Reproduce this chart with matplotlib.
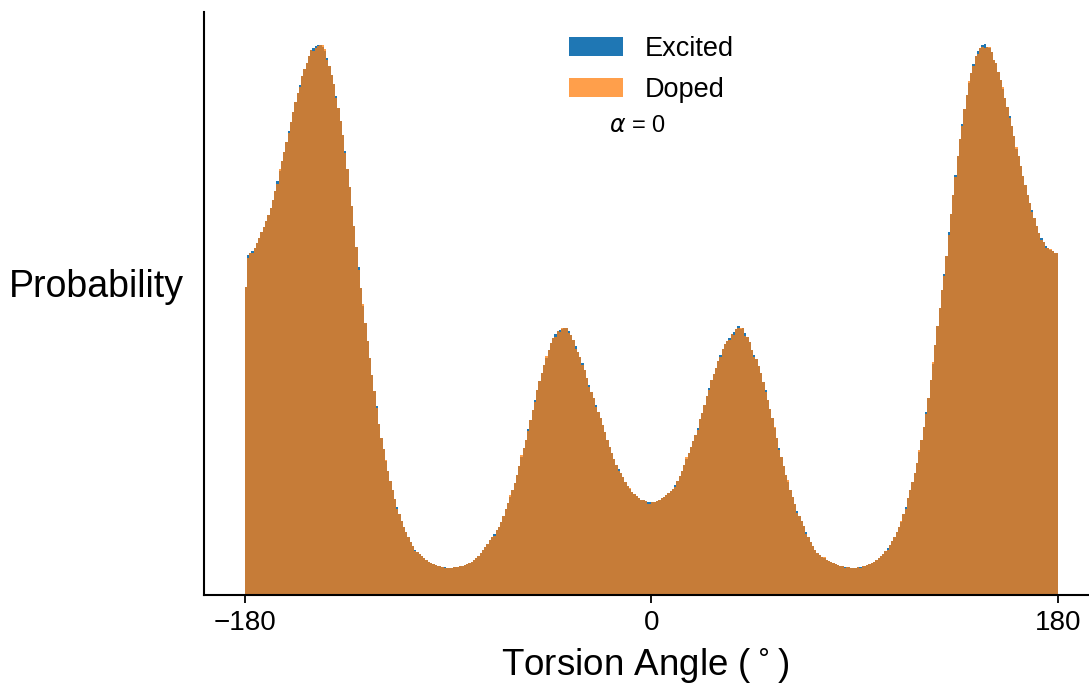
import numpy as np
import matplotlib
matplotlib.use('Agg')
import matplotlib.pyplot as plt

plt.rcParams['font.family'] = ['Liberation Sans', 'DejaVu Sans']

# torsion angle histograms, one bin per degree from -180 to 180 (arbitrary units)
bin_edges = np.arange(-180, 181, 1)

excited = [
    308, 340, 342, 344, 347, 352, 357, 363, 368, 374,
    380, 387, 395, 404, 414, 424, 434, 443, 453, 464,
    473, 483, 493, 502, 510, 519, 526, 532, 539, 545,
    547, 549, 550, 550, 548, 544, 537, 529, 520, 511,
    499, 487, 474, 460, 444, 426, 408, 389, 369, 348,
    328, 307, 289, 272, 254, 237, 220, 204, 189, 171,
    157, 146, 134, 124, 114, 105, 96, 88, 81, 74,
    68, 63, 58, 53, 49, 45, 43, 41, 39, 37,
    35, 33, 32, 31, 30, 29, 29, 28, 28, 27,
    27, 27, 28, 28, 28, 29, 29, 30, 31, 32,
    33, 35, 37, 39, 42, 45, 48, 51, 55, 58,
    61, 65, 68, 73, 79, 86, 92, 98, 105, 112,
    120, 129, 138, 147, 155, 166, 175, 185, 195, 205,
    214, 222, 230, 237, 245, 252, 257, 261, 264, 265,
    266, 267, 267, 264, 260, 255, 249, 243, 238, 232,
    225, 217, 210, 203, 197, 190, 183, 177, 170, 163,
    155, 148, 142, 136, 130, 126, 122, 118, 113, 109,
    106, 103, 101, 99, 97, 95, 95, 94, 93, 93,
    93, 93, 94, 95, 97, 98, 100, 102, 104, 106,
    110, 114, 119, 124, 130, 136, 142, 148, 154, 160,
    167, 176, 182, 190, 199, 207, 215, 221, 227, 234,
    240, 246, 251, 254, 257, 261, 263, 266, 269, 266,
    267, 262, 258, 253, 245, 240, 236, 229, 222, 213,
    205, 195, 186, 177, 167, 157, 147, 138, 129, 120,
    113, 105, 98, 91, 84, 79, 74, 69, 63, 58,
    53, 49, 45, 42, 40, 38, 37, 35, 34, 33,
    32, 31, 30, 29, 29, 28, 28, 28, 27, 27,
    27, 28, 28, 29, 29, 30, 31, 32, 33, 35,
    37, 39, 41, 44, 47, 50, 54, 58, 63, 68,
    73, 81, 88, 97, 105, 113, 122, 132, 143, 155,
    168, 183, 197, 215, 231, 250, 269, 287, 305, 321,
    339, 363, 381, 400, 420, 439, 456, 471, 486, 500,
    512, 522, 531, 539, 544, 547, 550, 551, 548, 547,
    543, 535, 532, 523, 515, 506, 497, 488, 479, 469,
    459, 446, 439, 429, 419, 410, 400, 392, 385, 377,
    369, 362, 357, 353, 349, 347, 345, 344, 342, 342,
]

doped = [
    308, 337, 342, 342, 347, 352, 357, 363, 368, 374,
    380, 387, 395, 404, 411, 426, 434, 443, 453, 462,
    473, 483, 493, 502, 508, 519, 526, 532, 539, 545,
    544, 547, 549, 550, 550, 546, 535, 529, 520, 511,
    497, 487, 474, 460, 442, 426, 408, 389, 369, 348,
    325, 307, 291, 272, 254, 237, 220, 204, 187, 171,
    157, 146, 135, 124, 114, 105, 96, 86, 81, 74,
    68, 63, 58, 53, 49, 44, 43, 41, 39, 37,
    35, 33, 32, 31, 30, 29, 29, 28, 27, 27,
    27, 27, 28, 28, 28, 29, 29, 30, 31, 32,
    33, 35, 37, 39, 42, 45, 48, 51, 55, 58,
    59, 65, 68, 73, 79, 86, 92, 100, 105, 112,
    120, 129, 140, 147, 155, 164, 175, 185, 193, 205,
    214, 222, 230, 239, 245, 252, 257, 258, 264, 263,
    267, 267, 267, 262, 260, 255, 246, 243, 238, 230,
    225, 217, 208, 203, 197, 188, 183, 177, 170, 163,
    155, 148, 142, 136, 130, 124, 122, 118, 113, 109,
    107, 103, 101, 99, 97, 95, 95, 94, 91, 91,
    93, 93, 94, 95, 97, 98, 100, 102, 104, 106,
    108, 114, 119, 124, 130, 138, 142, 148, 154, 160,
    165, 176, 182, 190, 199, 205, 215, 221, 227, 234,
    238, 246, 251, 254, 255, 261, 260, 266, 267, 267,
    267, 259, 258, 253, 245, 238, 236, 229, 222, 213,
    203, 195, 186, 177, 168, 157, 145, 138, 129, 120,
    115, 105, 98, 91, 82, 79, 74, 69, 61, 58,
    53, 49, 45, 42, 40, 38, 38, 35, 34, 33,
    32, 31, 30, 29, 29, 27, 28, 28, 27, 27,
    27, 28, 27, 29, 29, 30, 31, 32, 33, 35,
    37, 39, 41, 44, 45, 50, 54, 58, 63, 68,
    74, 81, 86, 97, 105, 113, 122, 132, 145, 155,
    168, 181, 197, 215, 233, 250, 269, 287, 305, 319,
    339, 360, 381, 400, 418, 439, 456, 469, 486, 500,
    514, 522, 529, 539, 541, 547, 548, 547, 548, 548,
    543, 535, 532, 523, 515, 508, 497, 488, 477, 469,
    459, 448, 439, 429, 419, 410, 400, 392, 383, 377,
    369, 362, 355, 353, 347, 347, 346, 344, 342, 342,
]

alpha_value = 0
bin_centers = bin_edges[:-1] + 0.5

fig = plt.figure(figsize=(10.89, 6.84), dpi=100)
ax = fig.add_axes([0.1873, 0.1301, 0.8219, 0.8523])

ax.hist(bin_centers, bins=bin_edges, weights=excited, color='#1f77b4', label='Excited')
ax.hist(bin_centers, bins=bin_edges, weights=doped, color='#ff7f0e', alpha=0.75, label='Doped')

ax.set_xlim(-198, 198)
ax.set_ylim(0, 583)
ax.set_xticks([-180, 0, 180])
ax.set_yticks([])
ax.tick_params(axis='x', labelsize=20, length=5.5, width=1.3, pad=5)

for side in ['top', 'right']:
    ax.spines[side].set_visible(False)
for side in ['left', 'bottom']:
    ax.spines[side].set_linewidth(1.5)

ax.set_xlabel(r'Torsion Angle ($^\circ$)', fontsize=26.5)
ax.xaxis.set_label_coords(0.4933, -0.088)
ax.set_ylabel('Probability', fontsize=27, rotation=0, ha='right', va='center')
ax.yaxis.set_label_coords(-0.023, 0.528)

ax.legend(loc='upper center', bbox_to_anchor=(0.5, 1.0), frameon=False, fontsize=19.5,
          handlelength=2.0, handletextpad=0.8, labelspacing=0.55)
ax.text(0.484, 0.805, r'$\alpha$ = %d' % alpha_value, transform=ax.transAxes,
        fontsize=17, ha='center', va='center')

fig.savefig('out.png', dpi=100)
